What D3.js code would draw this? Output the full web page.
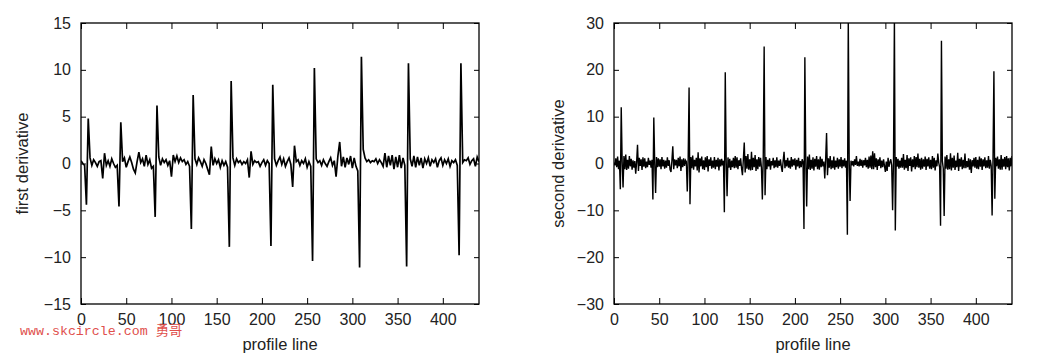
<!DOCTYPE html>
<html>
<head>
<meta charset="utf-8">
<script src="https://cdn.jsdelivr.net/npm/d3@7"></script>
<style>
  body { margin: 0; background: #fff; }
  svg text { font-family: "Liberation Sans", Arial, sans-serif; fill: #222; }
  .tick line { stroke: #000; stroke-width: 1; }
</style>
</head>
<body>
<div class="chart"></div>
<script>
// sample positions along the profile line
const firstX = d3.range(0, 441, 2);
const secondX = d3.range(0, 441, 1);

// first derivative values, one per position in firstX
const firstDerivative = [
   0.3, 0.0, -0.2, -4.4, 4.8, 0.6, -0.2, 0.4, 0.1, -0.3,
   0.2, 0.3, -1.6, 1.1, -0.2, 0.3, -0.3, 0.5, 0.0, -0.4,
   -0.2, -4.6, 4.4, 0.2, 0.6, -0.4, 0.2, 0.7, 0.1, -0.6,
   -1.0, 0.2, 1.2, 0.1, 0.5, -0.3, 0.9, -0.1, 0.4, -0.5,
   -0.3, -5.7, 6.2, 0.7, -0.2, 0.5, 0.1, 0.4, -0.2, 0.3,
   -1.4, 0.9, 0.2, 0.8, 0.1, 0.6, 0.2, 0.4, -0.1, 0.2,
   -0.3, -7.0, 7.3, 0.5, -0.1, 0.6, 0.2, -0.3, 0.4, 0.0,
   -0.6, -1.2, 1.8, -0.2, 0.5, 0.0, 0.4, -0.4, 0.3, -0.2,
   0.2, -0.4, -8.9, 8.8, 0.6, -0.2, 0.5, 0.1, 0.3, -0.1,
   0.2, 0.0, 0.4, -1.5, 1.3, -0.1, 0.3, 0.1, 0.2, -0.3,
   0.1, 0.4, -0.2, 0.3, 0.0, -8.8, 8.4, 0.5, -0.2, 0.3,
   0.7, -0.1, 0.5, -0.3, 0.2, 0.6, -0.1, -2.5, 1.9, 0.2,
   0.4, -0.2, 0.3, 0.0, 0.5, -0.4, 0.2, -0.3, -10.4, 10.2,
   0.5, 0.1, 0.3, -0.2, 0.4, 0.0, -0.3, 0.2, 0.6, -0.2,
   0.3, -1.4, 0.8, 2.3, -0.3, 0.7, -0.4, 0.6, -0.1, 0.8,
   -0.5, 0.6, -0.3, -0.8, -11.1, 11.4, 1.5, 0.6, 0.2, 0.4,
   0.1, 0.3, 0.2, 0.5, 0.0, 0.4, 0.1, -0.3, 1.1, -0.4,
   0.8, -0.2, 0.9, -0.6, 0.7, -0.4, 0.9, -0.5, 0.6, -0.2,
   -11.0, 10.7, 0.5, -0.3, 0.8, -0.4, 0.7, -0.2, 0.6, -0.5,
   0.5, 0.0, 0.6, -0.3, 0.4, 0.1, 0.5, -0.4, 0.3, 0.6,
   -0.2, 0.4, 0.0, 0.5, -0.3, 0.3, 0.1, 0.4, -0.2, -9.8,
   10.7, 0.1, 0.4, 0.3, 0.6, -0.1, 0.3, 0.5, -0.3, 0.7,
   0.2
];

// second derivative values, one per position in secondX
const secondDerivative = [
   0.2, -0.4, 1.1, -0.8, 1.5, -1.2, 0.6, -5.5, 12.0, 0.4,
   -5.1, 1.6, -1.2, 1.9, -1.4, 0.8, -1.1, 1.6, -0.6, 1.0,
   -1.3, 0.7, -0.9, 0.5, -2.2, 0.3, 4.0, -1.6, 1.2, -0.5,
   0.9, -1.4, 1.3, -0.7, 1.1, -1.0, 0.4, -0.8, 1.2, -0.3,
   0.6, -0.9, 0.8, -7.7, 9.8, 0.2, -6.3, 1.4, -0.8, 1.1,
   -0.7, 0.9, -1.2, 1.4, -0.6, 0.8, -1.1, 0.6, -0.9, 1.3,
   -0.5, 0.7, -1.3, -1.8, 0.6, 3.7, -1.2, 0.9, -0.4, 0.8,
   -1.0, 1.2, -0.6, 1.5, -1.6, 0.9, -0.8, 1.1, -0.5, 0.7,
   0.4, -6.0, 1.0, 16.2, -8.7, 1.4, -1.0, 1.7, -1.3, 0.8,
   -0.6, 1.2, -1.5, 2.4, -1.9, 1.1, -0.6, 1.5, -1.2, 0.7,
   -1.4, 1.3, -0.8, 1.6, -1.7, 0.9, -0.5, 1.3, -1.1, 0.6,
   -0.9, 1.4, -1.2, 0.8, -0.7, 1.2, -1.5, 0.9, -0.6, 1.0,
   -0.4, 0.6, -10.4, 19.5, 0.8, -7.0, 1.3, -0.9, 1.0, -1.4,
   0.6, -0.8, 1.2, -1.0, 1.6, -0.9, 1.3, -1.2, 0.7, -0.5,
   1.1, -1.0, -2.5, 0.9, 4.5, -1.9, 1.6, -1.1, 2.0, -1.3,
   0.9, -1.5, 2.5, -1.4, 1.2, -0.8, 1.8, -1.6, 0.9, -1.2,
   1.4, -0.7, 1.2, -0.9, -7.7, 1.5, 25.0, -6.8, 1.4, -1.2,
   0.8, -0.6, 1.1, -1.3, 0.5, -0.4, 1.2, -1.0, 0.7, -0.8,
   1.3, -0.9, 0.6, -0.5, 0.9, -0.7, -1.8, 0.6, 2.5, -1.0,
   0.7, -0.6, 1.2, -0.9, 0.6, -1.1, 1.4, -0.7, 0.9, -0.4,
   1.1, -1.3, 0.8, -0.6, 1.2, -1.0, 0.5, -0.8, 0.9, 0.3,
   -14.0, 22.7, 0.9, -9.2, 1.5, -1.2, 1.9, -1.4, 0.8, -1.1,
   1.3, -1.5, 1.0, -0.7, 1.6, -1.2, 0.9, -1.3, 1.5, -0.8,
   1.0, -0.6, 0.4, -3.2, 1.0, 6.5, -2.5, 1.1, -0.9, 1.6,
   -1.2, 0.7, -1.0, 1.5, -1.3, 0.6, -0.8, 1.2, -1.1, 0.9,
   -0.7, 1.4, -1.0, 0.8, -0.6, 1.1, -0.9, 0.6, -15.2, 31.0,
   0.6, -8.0, 0.6, -0.4, 0.5, -0.6, 0.9, -0.3, 1.6, -0.5,
   0.4, -0.6, 1.0, -0.5, 0.8, -0.9, 0.7, -0.4, 1.2, -0.8,
   0.8, -1.1, 1.5, -0.9, 1.7, -1.2, 2.6, -1.2, 2.2, -0.8,
   1.1, -1.4, 0.9, -0.5, 1.3, -1.0, 0.6, -0.8, 0.9, -0.5,
   -1.8, 0.4, -1.6, 1.2, -0.7, 0.3, 0.9, -0.4, -10.0, 0.8,
   31.0, -14.3, 1.4, -0.7, 1.0, -1.1, 0.6, -0.9, 1.2, -0.9,
   2.0, -1.3, 0.8, -1.0, 1.8, -1.6, 1.1, -0.5, 1.3, -1.7,
   0.9, -0.8, 1.6, -1.2, 1.4, -0.8, 2.1, -0.9, 1.0, -1.3,
   1.2, -1.1, 0.9, -0.7, 1.5, -1.4, 1.0, -0.6, 1.3, -1.1,
   0.8, -1.2, 1.6, -0.9, 1.2, -1.5, 0.7, -0.6, 2.1, 0.2,
   -0.8, -13.3, 26.2, 0.5, -1.0, -11.2, 1.5, -1.1, 1.8, -1.3,
   0.9, -1.2, 2.2, -1.5, 1.2, -0.9, 1.7, -1.4, 0.6, -0.8,
   2.3, -1.6, 1.0, -0.7, 1.3, -1.2, 0.8, -1.0, 2.1, -1.0,
   0.5, -0.8, 1.1, -1.3, 0.9, -2.0, 0.7, -0.6, 1.2, -0.9,
   1.4, -1.1, 0.8, -1.2, 1.5, -0.7, 1.1, -1.4, 0.9, -0.6,
   1.3, -1.0, 0.7, -0.9, 1.6, -1.1, 0.8, -0.5, -11.1, 0.9,
   19.7, -7.5, 1.2, -0.6, 1.5, -1.1, 0.9, -1.3, 1.8, -1.3,
   1.0, -0.7, 1.4, -1.2, 1.6, -0.8, 1.1, -1.5, 1.2, -0.6,
   1.6
];

const xTicks = [0, 50, 100, 150, 200, 250, 300, 350, 400];
const firstTicks = [-15, -10, -5, 0, 5, 10, 15];
const secondTicks = [-30, -20, -10, 0, 10, 20, 30];

const width = 1059;
const height = 356;
const plotW = 398;
const plotH = 281;
const plotTop = 23;

const svg = d3.select(".chart")
   .append("svg")
   .attr("width", width)
   .attr("height", height);

function drawPanel(left, xs, values, yDomain, yTicks, yLabel, labelX, id, lineW) {
   const x = d3.scaleLinear().domain([0, 440]).range([0, plotW]);
   const y = d3.scaleLinear().domain(yDomain).range([plotH, 0]);

   const g = svg.append("g").attr("transform", `translate(${left},${plotTop})`);

   g.append("clipPath")
      .attr("id", id)
      .append("rect")
      .attr("width", plotW)
      .attr("height", plotH);

   // axes with inward ticks, mirrored on top and right
   const axes = [
      g.append("g").attr("transform", `translate(0,${plotH})`)
         .call(d3.axisBottom(x).tickValues(xTicks).tickSize(-6).tickSizeOuter(0).tickPadding(10)),
      g.append("g")
         .call(d3.axisTop(x).tickValues(xTicks).tickSize(-6).tickSizeOuter(0).tickFormat("")),
      g.append("g")
         .call(d3.axisLeft(y).tickValues(yTicks).tickSize(-5).tickSizeOuter(0).tickPadding(10)),
      g.append("g").attr("transform", `translate(${plotW},0)`)
         .call(d3.axisRight(y).tickValues(yTicks).tickSize(-5).tickSizeOuter(0).tickFormat(""))
   ];
   axes.forEach((a) => {
      a.select(".domain").remove();
      a.selectAll("text").style("font-size", "16px").style("font-family", "'Liberation Sans', Arial, sans-serif").attr("fill", "#222");
   });

   const line = d3.line()
      .x((d, i) => x(xs[i]))
      .y((d) => y(d));

   g.append("path")
      .datum(values)
      .attr("clip-path", `url(#${id})`)
      .attr("fill", "none")
      .attr("stroke", "#000")
      .attr("stroke-width", lineW)
      .attr("stroke-linejoin", "miter")
      .attr("d", line);

   g.append("rect")
      .attr("width", plotW)
      .attr("height", plotH)
      .attr("fill", "none")
      .attr("stroke", "#000")
      .attr("stroke-width", 1.3);

   g.append("text")
      .attr("x", plotW / 2)
      .attr("y", 327)
      .attr("text-anchor", "middle")
      .style("font-size", "16.5px")
      .text("profile line");

   svg.append("text")
      .attr("transform", `translate(${labelX},${plotTop + plotH / 2}) rotate(-90)`)
      .attr("text-anchor", "middle")
      .attr("dy", "0.35em")
      .style("font-size", "16.5px")
      .text(yLabel);
}

drawPanel(81, firstX, firstDerivative, [-15, 15], firstTicks, "first derivative", 22, "clipA", 1.7);
drawPanel(614, secondX, secondDerivative, [-30, 30], secondTicks, "second derivative", 558, "clipB", 1.4);

// watermark
svg.append("text")
   .attr("x", 20)
   .attr("y", 335)
   .style("font-family", "'Liberation Mono', 'Noto Sans CJK SC', monospace")
   .style("font-size", "13.3px")
   .style("fill", "#e0504c")
   .text("www.skcircle.com 勇哥");
</script>
</body>
</html>
